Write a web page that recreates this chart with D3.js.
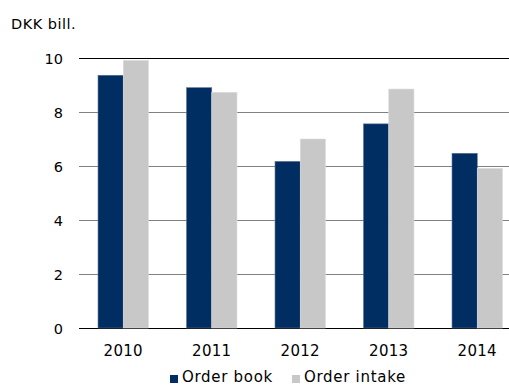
<!DOCTYPE html>
<html>
<head>
<meta charset="utf-8">
<script src="https://cdn.jsdelivr.net/npm/d3@7"></script>
<style>
  body { margin: 0; background: #fff; }
  svg { display: block; font-family: "DejaVu Sans", Verdana, sans-serif; }
</style>
</head>
<body>
<div class="box"></div>
<script>
// data
const years = ['2010', '2011', '2012', '2013', '2014'];
const orderBook = [9.36, 8.9, 6.17, 7.56, 6.47];
const orderIntake = [9.91, 8.73, 7.0, 8.85, 5.91];
const yTicks = [0, 2, 4, 6, 8, 10];
const seriesNames = ['Order book', 'Order intake'];
const colors = ['#002d62', '#c8c8c8'];

const width = 509, height = 385;

const svg = d3.select('.box').append('svg')
              .attr('width', width)
              .attr('height', height);

const x = d3.scaleBand()
            .domain(years)
            .range([79, 521.5])
            .paddingInner(0.43)
            .paddingOuter(0.215);

const sub = d3.scaleBand()
              .domain([0, 1])
              .range([0, x.bandwidth()]);

const y = d3.scaleLinear()
            .domain([0, 10])
            .range([328, 58]);

// title
svg.append('text')
   .attr('x', 11)
   .attr('y', 29)
   .attr('font-size', 14.5)
   .attr('letter-spacing', 0.5)
   .attr('fill', '#000')
   .text('DKK bill.');

// grid lines
svg.append('g')
   .selectAll('line')
   .data(yTicks)
   .join('line')
   .attr('x1', 79)
   .attr('x2', width)
   .attr('y1', d => Math.round(y(d)) + 0.5)
   .attr('y2', d => Math.round(y(d)) + 0.5)
   .attr('stroke', d => (d === 10 || d === 0) ? '#000' : '#808080')
   .attr('stroke-width', 1);

// y labels
svg.append('g')
   .selectAll('text')
   .data(yTicks)
   .join('text')
   .attr('x', 63)
   .attr('y', d => y(d) + 5.5)
   .attr('text-anchor', 'end')
   .attr('font-size', 14.5)
   .text(d => d);

// bars
const series = [orderBook, orderIntake];
series.forEach((vals, i) => {
  svg.append('g')
     .selectAll('rect')
     .data(vals)
     .join('rect')
     .attr('x', (d, j) => x(years[j]) + sub(i))
     .attr('y', d => y(d))
     .attr('width', sub.bandwidth())
     .attr('height', d => y(0) - y(d))
     .attr('fill', colors[i])
     .attr('stroke', i === 0 ? '#5a6f8c' : '#dcdcdc')
     .attr('stroke-width', 0.6);
});

// x labels
svg.append('g')
   .selectAll('text')
   .data(years)
   .join('text')
   .attr('x', d => x(d) + x.bandwidth() / 2)
   .attr('y', 356)
   .attr('text-anchor', 'middle')
   .attr('font-size', 15)
   .attr('letter-spacing', 0.3)
   .text(d => d);

// legend
const legendX = [170, 292];
const legend = svg.append('g');
seriesNames.forEach((name, i) => {
  legend.append('rect')
        .attr('x', legendX[i])
        .attr('y', 375)
        .attr('width', 8)
        .attr('height', 8)
        .attr('fill', colors[i]);
  legend.append('text')
        .attr('x', legendX[i] + 12)
        .attr('y', 382)
        .attr('font-size', 15)
        .attr('letter-spacing', 0.7)
        .text(name);
});
</script>
</body>
</html>
